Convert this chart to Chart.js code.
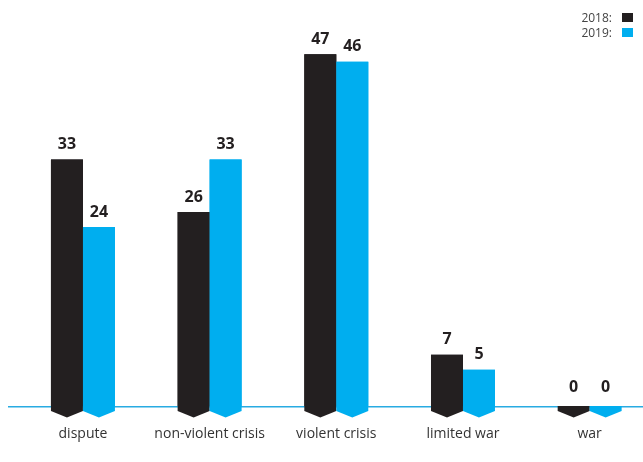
<!DOCTYPE html>
<html>
<head>
<meta charset="utf-8">
<script src="https://cdn.jsdelivr.net/npm/chart.js@4/dist/chart.umd.min.js"></script>
<style>
  html, body { margin: 0; padding: 0; background: #fff; overflow: hidden; }
  body { width: 643px; height: 462px; position: relative; }
  #wrap { position: absolute; left: 0; top: 0; width: 660px; height: 462px; }
  #legend { position: absolute; right: 10px; top: 10px; font-family: "Open Sans", "Noto Sans", sans-serif; font-size: 12px; color: #444; line-height: 15px; }
  #legend div { display: flex; align-items: center; justify-content: flex-end; }
  #legend span.sw { display: inline-block; width: 11px; height: 9px; margin-left: 10px; }
</style>
</head>
<body>
<div id="wrap"><canvas id="c"></canvas></div>
<div id="legend"></div>
<script>
const categories = ["dispute", "non-violent crisis", "violent crisis", "limited war", "war"];
const seriesNames = ["2018:", "2019:"];
const values2018 = [33, 26, 47, 7, 0];
const values2019 = [24, 33, 46, 5, 0];
const colors = ["#231f20", "#00aeef"];

const legend = document.getElementById('legend');
seriesNames.forEach((n, i) => {
  const d = document.createElement('div');
  d.innerHTML = '<span>' + n + '</span><span class="sw" style="background:' + colors[i] + '"></span>';
  legend.appendChild(d);
});

const decor = {
  id: 'decor',
  afterDraw(chart) {
    const ctx = chart.ctx;
    const y0 = Math.round(chart.scales.y.getPixelForValue(0));
    ctx.save();
    ctx.fillStyle = '#29abe2';
    ctx.fillRect(8, y0 - 1, chart.width - 8, 1.5);
    chart.data.datasets.forEach((ds, di) => {
      const meta = chart.getDatasetMeta(di);
      meta.data.forEach((bar, i) => {
        const w = bar.width, cx = bar.x;
        ctx.fillStyle = ds.backgroundColor;
        ctx.beginPath();
        ctx.moveTo(cx - w / 2, Math.min(bar.y, y0 - 1));
        ctx.lineTo(cx + w / 2, Math.min(bar.y, y0 - 1));
        ctx.lineTo(cx + w / 2, y0 + 4);
        ctx.lineTo(cx, y0 + 10.5);
        ctx.lineTo(cx - w / 2, y0 + 4);
        ctx.closePath();
        ctx.fill();
        ctx.fillStyle = '#231f20';
        ctx.font = 'bold 16px "Open Sans", "Noto Sans", sans-serif';
        ctx.textAlign = 'center';
        ctx.textBaseline = 'bottom';
        const v = ds.data[i];
        ctx.fillText(String(v), cx, bar.y - (v === 0 ? 12 : 7));
      });
    });
    ctx.restore();
  }
};

new Chart(document.getElementById('c'), {
  type: 'bar',
  data: {
    labels: categories,
    datasets: [
      { label: seriesNames[0], data: values2018, backgroundColor: colors[0] },
      { label: seriesNames[1], data: values2019, backgroundColor: colors[1] }
    ]
  },
  options: {
    responsive: true,
    maintainAspectRatio: false,
    animation: false,
    layout: { padding: { left: 19.6, right: 7, top: 7, bottom: 10 } },
    datasets: { bar: { barPercentage: 1, categoryPercentage: 0.505, borderWidth: 0 } },
    plugins: { legend: { display: false }, tooltip: { enabled: false } },
    scales: {
      x: {
        grid: { display: false },
        border: { display: false },
        ticks: { padding: 10, color: '#333', font: { family: '"Open Sans", "Noto Sans", sans-serif', size: 14 }, maxRotation: 0, autoSkip: false }
      },
      y: {
        display: false,
        min: 0,
        max: 53.3
      }
    }
  },
  plugins: [decor]
});
</script>
</body>
</html>
